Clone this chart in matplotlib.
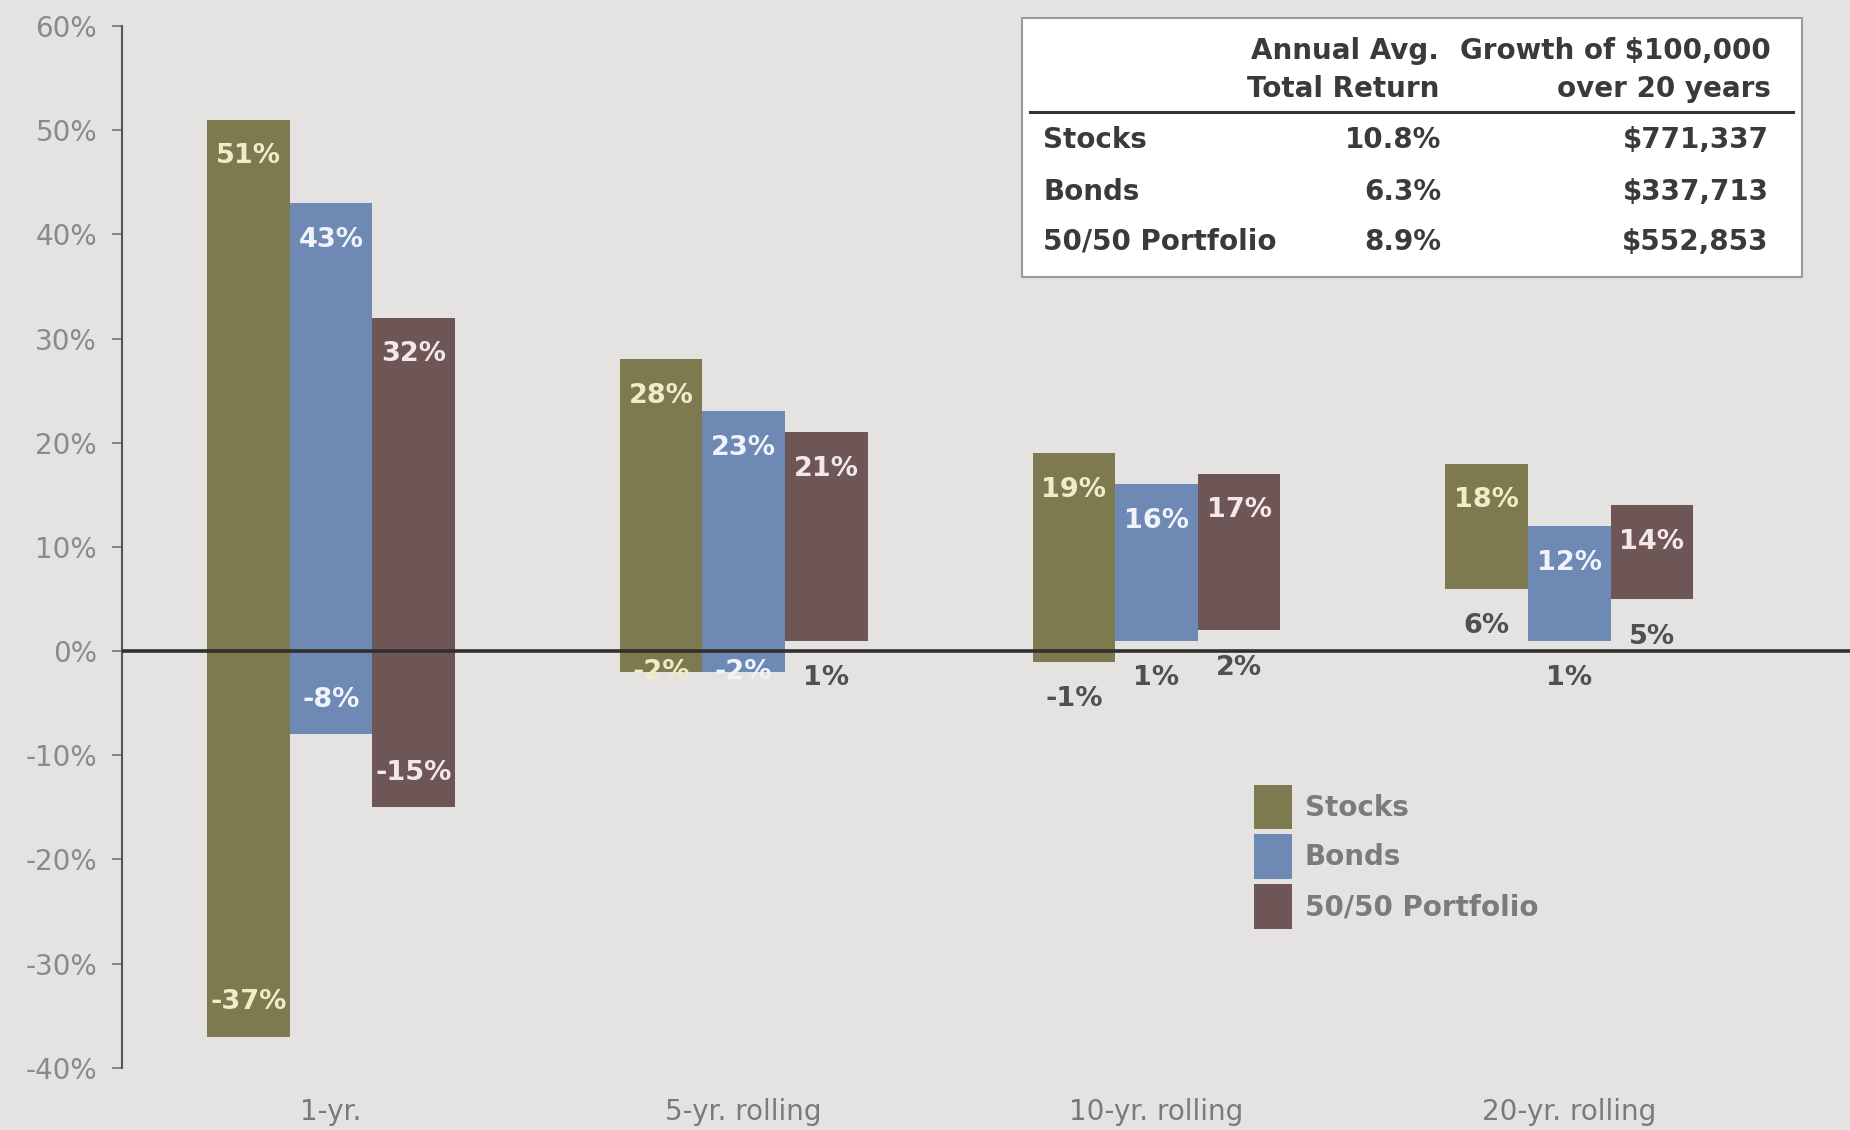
import matplotlib
matplotlib.use("Agg")
import matplotlib.pyplot as plt
from matplotlib.patches import Rectangle
import numpy as np

plt.rcParams['font.family'] = ['DejaVu Sans']

periods = ["1-yr.", "5-yr. rolling", "10-yr. rolling", "20-yr. rolling"]
series = ["Stocks", "Bonds", "50/50 Portfolio"]

# best / worst annualized returns (%) per holding period
stocks_high = [51, 28, 19, 18]
stocks_low = [-37, -2, -1, 6]
bonds_high = [43, 23, 16, 12]
bonds_low = [-8, -2, 1, 1]
mix_high = [32, 21, 17, 14]
mix_low = [-15, 1, 2, 5]

# summary box
avg_return = [10.8, 6.3, 8.9]
growth = [771337, 337713, 552853]

bg = '#e5e2e2'
colors = ['#7e7a50', '#6d89b4', '#6e5556']
light_txt = ['#f1ebc6', '#f0f3fb', '#f3e8e8']
dark_txt = '#505050'

fig = plt.figure(figsize=(18.5, 11.3), dpi=100, facecolor=bg)
ax = fig.add_axes([0.066, 0.055, 0.934, 0.922])
ax.set_facecolor(bg)

x = np.arange(len(periods))
w = 0.2
highs = [stocks_high, bonds_high, mix_high]
lows = [stocks_low, bonds_low, mix_low]
lab = dict(ha='center', va='center', fontsize=19.5, fontweight='bold', zorder=4)

for i in range(3):
    hi = np.array(highs[i])
    lo = np.array(lows[i])
    xs = x + (i - 1) * w
    ax.bar(xs, hi - lo, bottom=lo, width=w, color=colors[i], label=series[i], zorder=2)
    for xi, h, l in zip(xs, hi, lo):
        ax.text(xi, h - 3.5, f"{h}%", color=light_txt[i], **lab)
        if l <= -5:
            ax.text(xi, l + 3.3, f"{l}%", color=light_txt[i], **lab)
        elif l <= -2:
            ax.text(xi, l, f"{l}%", color=light_txt[i], **lab)
        else:
            ax.text(xi, l - 3.6, f"{l}%", color=dark_txt, **lab)

ax.axhline(0, color='#303030', lw=2.6, zorder=3)

ax.set_ylim(-40, 60)
ax.set_xlim(-0.506, 3.68)
ax.set_yticks(np.arange(-40, 61, 10))
ax.set_yticklabels([f"{v}%" for v in range(-40, 61, 10)])
ax.set_xticks(x)
ax.set_xticklabels(periods)

for s in ["top", "right", "bottom"]:
    ax.spines[s].set_visible(False)
ax.spines["left"].set_color('#555555')
ax.spines["left"].set_linewidth(1.5)

ax.tick_params(axis='y', direction='out', length=7, width=1.2, color='#777777',
               labelsize=20, labelcolor='#8a8a8a', pad=11)
ax.tick_params(axis='x', length=0, labelsize=20, labelcolor='#7a7a7a', pad=22)

leg = ax.legend(loc='upper left', bbox_to_anchor=(0.6705, 0.318),
                bbox_transform=fig.transFigure, frameon=False, fontsize=20,
                handlelength=1.37, handleheight=2.1, labelspacing=0.18,
                handletextpad=0.45, borderpad=0)
for t in leg.get_texts():
    t.set_color('#7b7b7b')
    t.set_fontweight('bold')

# summary table in the top-right corner
fig.patches.append(Rectangle((0.5524, 0.7549), 0.4216, 0.2292, transform=fig.transFigure,
                             facecolor='white', edgecolor='#9a9a9a', lw=1.5, zorder=5))
tk = dict(fontsize=20, fontweight='bold', color='#3a3a3a', zorder=6)
fig.text(0.778, 0.955, "Annual Avg.", ha='right', va='center', **tk)
fig.text(0.778, 0.921, "Total Return", ha='right', va='center', **tk)
fig.text(0.957, 0.955, "Growth of $100,000", ha='right', va='center', **tk)
fig.text(0.957, 0.921, "over 20 years", ha='right', va='center', **tk)
fig.lines.append(plt.Line2D([0.557, 0.969], [0.901, 0.901], transform=fig.transFigure,
                            color='#333333', lw=2.2, zorder=6))
row_y = [0.876, 0.830, 0.786]
for name, r, g, y in zip(series, avg_return, growth, row_y):
    fig.text(0.564, y, name, ha='left', va='center', **tk)
    fig.text(0.779, y, f"{r}%", ha='right', va='center', **tk)
    fig.text(0.956, y, f"${g:,}", ha='right', va='center', **tk)

plt.savefig("out.png", dpi=100, facecolor=bg)
